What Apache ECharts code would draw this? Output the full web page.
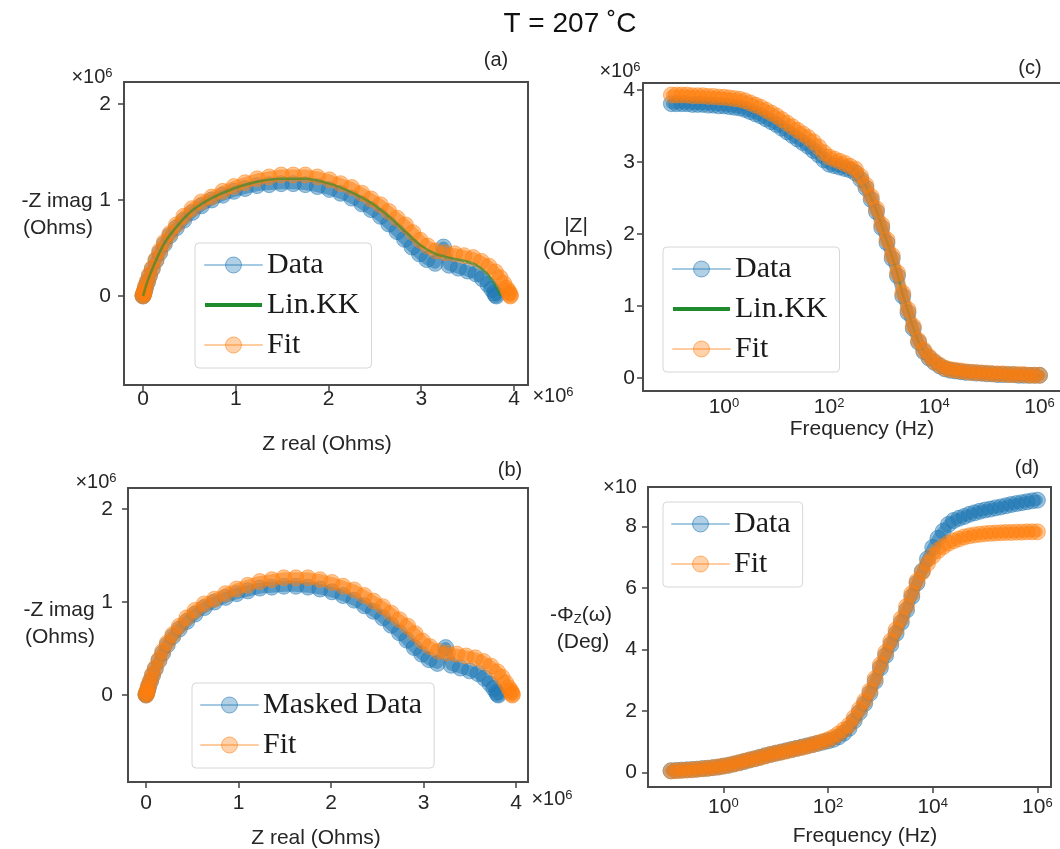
<!DOCTYPE html>
<html><head><meta charset="utf-8">
<script src="https://cdn.jsdelivr.net/npm/echarts@6/dist/echarts.min.js"></script>
<style>html,body{margin:0;padding:0;background:#fff}#chart{width:1060px;height:849px}</style>
</head><body><div id="chart"></div>
<script>
// ---------- DATA ----------
// Frequency exponents (log10 Hz)
const freqExp = [-1.0,-0.9,-0.8,-0.7,-0.6,-0.5,-0.4,-0.3,-0.2,-0.1,
  0.0,0.1,0.2,0.3,0.4,0.5,0.6,0.7,0.8,0.9,
  1.0,1.1,1.2,1.3,1.4,1.5,1.6,1.7,1.8,1.9,
  2.0,2.1,2.2,2.3,2.4,2.5,2.6,2.7,2.8,2.9,
  3.0,3.1,3.2,3.3,3.4,3.5,3.6,3.7,3.8,3.9,
  4.0,4.1,4.2,4.3,4.4,4.5,4.6,4.7,4.8,4.9,
  5.0,5.1,5.2,5.3,5.4,5.5,5.6,5.7,5.8,5.9,
  6.0];
// |Z| (x1e6 Ohms)
const zModData = [3.81,3.81,3.81,3.81,3.80,3.80,3.80,3.79,3.79,3.78,
  3.78,3.77,3.76,3.75,3.73,3.70,3.67,3.64,3.60,3.56,
  3.52,3.47,3.42,3.37,3.32,3.27,3.22,3.16,3.10,3.03,
  2.97,2.95,2.93,2.91,2.89,2.85,2.76,2.64,2.48,2.31,
  2.09,1.88,1.66,1.42,1.14,0.91,0.69,0.50,0.37,0.28,
  0.22,0.17,0.13,0.11,0.10,0.09,0.08,0.08,0.07,0.07,
  0.06,0.06,0.05,0.05,0.05,0.05,0.04,0.04,0.04,0.04,
  0.04];
const zModKK = [3.86,3.86,3.86,3.86,3.85,3.85,3.85,3.84,3.84,3.83,
  3.83,3.82,3.81,3.80,3.78,3.75,3.72,3.69,3.65,3.61,
  3.57,3.52,3.47,3.42,3.37,3.32,3.27,3.21,3.15,3.08,
  3.02,2.99,2.97,2.94,2.91,2.87,2.78,2.66,2.50,2.33,
  2.11,1.90,1.68,1.44,1.16,0.93,0.70,0.51,0.38,0.29,
  0.22,0.17,0.13,0.11,0.10,0.09,0.08,0.08,0.07,0.07,
  0.06,0.06,0.05,0.05,0.05,0.05,0.04,0.04,0.04,0.04,
  0.04];
const zModFit = [3.93,3.93,3.93,3.93,3.92,3.92,3.92,3.91,3.91,3.90,
  3.90,3.89,3.88,3.87,3.85,3.82,3.79,3.76,3.72,3.68,
  3.64,3.59,3.54,3.49,3.44,3.39,3.34,3.28,3.21,3.13,
  3.07,3.04,3.01,2.98,2.94,2.90,2.80,2.68,2.52,2.35,
  2.13,1.92,1.70,1.46,1.18,0.95,0.72,0.52,0.39,0.30,
  0.23,0.18,0.14,0.12,0.11,0.10,0.09,0.08,0.08,0.07,
  0.07,0.06,0.06,0.06,0.05,0.05,0.05,0.05,0.04,0.04,
  0.04];
// -Phase (x10 deg)
const phaseData = [0.05,0.06,0.07,0.08,0.09,0.10,0.12,0.13,0.15,0.17,
  0.20,0.23,0.27,0.31,0.35,0.40,0.44,0.49,0.54,0.58,
  0.62,0.66,0.70,0.74,0.78,0.82,0.86,0.90,0.94,0.98,
  1.02,1.07,1.15,1.27,1.43,1.68,1.95,2.24,2.57,2.96,
  3.40,3.80,4.16,4.52,4.88,5.28,5.72,6.16,6.55,6.95,
  7.32,7.62,7.85,8.07,8.20,8.27,8.33,8.40,8.45,8.50,
  8.54,8.57,8.61,8.64,8.68,8.72,8.75,8.78,8.81,8.84,
  8.86];
const phaseFit = [0.04,0.05,0.06,0.07,0.08,0.10,0.11,0.13,0.15,0.17,
  0.20,0.23,0.27,0.31,0.36,0.40,0.44,0.48,0.53,0.58,
  0.62,0.65,0.69,0.73,0.77,0.81,0.85,0.90,0.95,1.00,
  1.06,1.14,1.25,1.38,1.53,1.78,2.05,2.32,2.65,3.05,
  3.50,3.90,4.27,4.64,5.00,5.40,5.82,6.22,6.52,6.80,
  7.04,7.22,7.35,7.46,7.54,7.60,7.66,7.70,7.73,7.75,
  7.77,7.78,7.79,7.80,7.81,7.81,7.82,7.82,7.83,7.83,
  7.83];
// Nyquist (x1e6 Ohms)
const nyqDataRe = [0.00,0.00,0.01,0.02,0.03,0.05,0.07,0.10,0.14,0.18,
  0.23,0.29,0.36,0.44,0.53,0.63,0.74,0.86,0.98,1.10,
  1.23,1.36,1.49,1.62,1.75,1.88,2.01,2.13,2.25,2.36,
  2.46,2.56,2.65,2.74,2.82,2.90,2.98,3.06,3.15,3.24,
  3.30,3.40,3.50,3.59,3.66,3.72,3.76,3.79,3.80,3.81];
const nyqDataIm = [0.00,0.01,0.03,0.06,0.10,0.15,0.21,0.28,0.37,0.45,
  0.54,0.63,0.71,0.79,0.87,0.94,1.00,1.05,1.09,1.12,
  1.15,1.16,1.17,1.17,1.16,1.14,1.11,1.07,1.02,0.96,
  0.90,0.83,0.75,0.67,0.59,0.51,0.44,0.38,0.34,0.51,
  0.32,0.29,0.26,0.23,0.18,0.12,0.07,0.03,0.01,0.00];
const nyqKKRe = [0.00,0.01,0.03,0.07,0.14,0.23,0.36,0.53,0.74,0.98,1.23,1.49,1.75,2.01,
  2.25,2.46,2.65,2.83,2.99,3.15,3.30,3.45,3.58,3.68,3.76,3.81,3.84,3.85];
const nyqKKIm = [0.00,0.03,0.10,0.21,0.37,0.55,0.72,0.89,1.02,1.12,1.19,1.22,1.22,1.17,
  1.08,0.97,0.83,0.67,0.53,0.44,0.40,0.37,0.33,0.26,0.17,0.09,0.03,0.00];
const nyqFitRe = [0.00,0.00,0.01,0.01,0.02,0.03,0.05,0.07,0.10,0.14,
  0.18,0.23,0.29,0.36,0.44,0.53,0.63,0.74,0.86,0.98,
  1.10,1.23,1.36,1.49,1.62,1.75,1.88,2.01,2.13,2.25,
  2.36,2.46,2.56,2.65,2.74,2.83,2.91,2.99,3.07,3.16,
  3.26,3.36,3.46,3.56,3.65,3.73,3.80,3.85,3.89,3.92,
  3.94,3.95,3.96,3.96];
const nyqFitIm = [0.00,0.01,0.02,0.04,0.07,0.11,0.16,0.22,0.29,0.38,
  0.47,0.56,0.65,0.74,0.83,0.91,0.98,1.03,1.09,1.14,
  1.18,1.22,1.24,1.26,1.26,1.26,1.24,1.21,1.17,1.13,
  1.07,1.01,0.95,0.88,0.81,0.74,0.66,0.58,0.52,0.47,
  0.45,0.44,0.42,0.40,0.36,0.31,0.25,0.19,0.13,0.08,
  0.05,0.03,0.01,0.00];
// Tick values
const nyqXTicks = [0,1,2,3,4];
const nyqYTicks = [0,1,2];
const zModTicks = [0,1,2,3,4];
const phaseTicks = [0,2,4,6,8];
const freqTicks = [0,2,4,6];

// ---------- CHART ----------
const chart = echarts.init(document.getElementById('chart'), null, {renderer:'canvas'});
const SANS = 'Liberation Sans, Arial, sans-serif';
const SERIF = 'Liberation Serif, Times New Roman, serif';
const TXT = '#262626';
const FRAME = '#4a4a4a';
const BLUE = '31,119,180', ORANGE = '255,127,14', GREEN = '#1f8b2c';
const zip = (a, b) => a.map((v, i) => [v, b[i]]);

function markerSeries(name, rgb, data, idx, z) {
  return {name, type:'line', xAxisIndex:idx, yAxisIndex:idx, data, z: z || 2,
    symbol:'circle', symbolSize:16, showAllSymbol:true, silent:true,
    lineStyle:{color:`rgba(${rgb},0.55)`, width:11, cap:'round', join:'round'},
    itemStyle:{color:`rgba(${rgb},0.45)`, borderColor:`rgba(${rgb},0.5)`, borderWidth:1},
    emphasis:{disabled:true}};
}
function kkSeries(data, idx, z, opacity) {
  return {name:'Lin.KK', type:'line', xAxisIndex:idx, yAxisIndex:idx, data, symbol:'none', z,
    smooth:0.3, silent:true, lineStyle:{color:GREEN, width:2.5, opacity}, itemStyle:{color:GREEN}, emphasis:{disabled:true}};
}
function valAxis(gridIndex, min, max, ticks, margin, showTick, fmt, showLine) {
  const ax = {type:'value', gridIndex, min, max,
    axisLine:{show:!!showLine, onZero:false, lineStyle:{color:FRAME, width:2}},
    splitLine:{show:false},
    axisTick:{show:showTick, inside:false, length:6, lineStyle:{color:'#444', width:1.5}, customValues:ticks},
    axisLabel:{customValues:ticks, color:TXT, fontFamily:SANS, fontSize:21, margin}};
  if (fmt) {
    ax.axisLabel.formatter = fmt;
    ax.axisLabel.rich = {b:{fontSize:21, fontFamily:SANS, color:TXT}, s:{fontSize:13, fontFamily:SANS, color:TXT, verticalAlign:'top'}};
  }
  return ax;
}
const powFmt = v => '{b|10}{s|' + Math.round(v) + '}';

function legendItem(name, rgb) {
  return {name, lineStyle:{width:2, color:`rgba(${rgb},0.4)`, opacity:1}, itemStyle:{color:`rgba(${rgb},0.35)`, borderColor:`rgba(${rgb},0.55)`, borderWidth:1}};
}
const kkLegend = {name:'Lin.KK', itemStyle:{opacity:0}, lineStyle:{width:4, color:GREEN, opacity:1}};
function legend(items, left, top) {
  return {data:items, left, top, orient:'vertical', itemWidth:57, itemHeight:20, itemGap:10,
    padding:[7,12,8,8], backgroundColor:'rgba(255,255,255,0.85)', borderColor:'#d6d6d6', borderWidth:1, borderRadius:4,
    textStyle:{fontFamily:SERIF, fontSize:30, color:'#1a1a1a', lineHeight:30}, selectedMode:false, z:10};
}

function txt(text, x, y, size, fill) {
  return {type:'text', x, y, silent:true,
    style:{text, fill:fill || TXT, fontFamily:SANS, fontSize:size, align:'center', verticalAlign:'middle'}};
}
function rtxt(text, x, y, rich) {
  return {type:'text', x, y, silent:true,
    style:{text, fill:TXT, fontFamily:SANS, fontSize:20, align:'center', verticalAlign:'middle', rich}};
}
const supRich = {a:{fontSize:20, fontFamily:SANS, fill:TXT}, s:{fontSize:13, fontFamily:SANS, fill:TXT, verticalAlign:'top'}};
const subRich = {a:{fontSize:21, fontFamily:SANS, fill:TXT}, z:{fontSize:13, fontFamily:SANS, fill:TXT, verticalAlign:'bottom'}};

const frameGrid = (left, top, width, height, show) =>
  ({left, top, width, height, show, borderColor:FRAME, borderWidth:2, backgroundColor:'transparent'});

const option = {
  animation:false,
  backgroundColor:'#fff',
  grid:[
    frameGrid(124, 82, 404, 303, true),
    frameGrid(128, 488, 400, 294, true),
    frameGrid(643, 83, 417, 308, false),
    frameGrid(648, 487, 403, 300, true)
  ],
  xAxis:[
    valAxis(0, -0.205, 4.151, nyqXTicks, 4, true),
    valAxis(1, -0.195, 4.13, nyqXTicks, 11, true),
    valAxis(2, -1.54, 6.39, freqTicks, 6, false, powFmt, true),
    valAxis(3, -1.44, 6.26, freqTicks, 10, true, powFmt),
    {type:'value', gridIndex:2, position:'top', min:0, max:1,
      axisLine:{show:true, onZero:false, lineStyle:{color:FRAME, width:2}},
      axisTick:{show:false}, axisLabel:{show:false}, splitLine:{show:false}}
  ],
  yAxis:[
    valAxis(0, -0.927, 2.229, nyqYTicks, 13, true),
    valAxis(1, -0.935, 2.226, nyqYTicks, 15, true),
    valAxis(2, -0.178, 4.097, zModTicks, 8, true, null, true),
    valAxis(3, -0.48, 9.29, phaseTicks, 11, true)
  ],
  legend:[
    legend([legendItem('Data', BLUE), kkLegend, legendItem('Fit', ORANGE)], 195, 243),
    legend([legendItem('Masked Data', BLUE), legendItem('Fit', ORANGE)], 192, 683),
    legend([legendItem('Data', BLUE), kkLegend, legendItem('Fit', ORANGE)], 663, 247),
    legend([legendItem('Data', BLUE), legendItem('Fit', ORANGE)], 663, 502)
  ],
  series:[
    markerSeries('Data', BLUE, zip(nyqDataRe, nyqDataIm), 0),
    kkSeries(zip(nyqKKRe, nyqKKIm), 0, 4, 0.6),
    markerSeries('Fit', ORANGE, zip(nyqFitRe, nyqFitIm), 0, 3),
    markerSeries('Masked Data', BLUE, zip(nyqDataRe, nyqDataIm), 1),
    markerSeries('Fit', ORANGE, zip(nyqFitRe, nyqFitIm), 1, 3),
    markerSeries('Data', BLUE, zip(freqExp, zModData), 2),
    kkSeries(zip(freqExp, zModKK), 2, 2, 1),
    markerSeries('Fit', ORANGE, zip(freqExp, zModFit), 2, 3),
    markerSeries('Data', BLUE, zip(freqExp, phaseData), 3),
    markerSeries('Fit', ORANGE, zip(freqExp, phaseFit), 3, 3)
  ],
  graphic:[
    txt('T = 207 \u02DAC', 570, 24, 28, '#111'),
    txt('(a)', 496, 60, 20), txt('(b)', 510, 470, 20), txt('(c)', 1030, 68, 20), txt('(d)', 1027, 468, 20),
    rtxt('{a|\u00D710}{s|6}', 92, 77, supRich),
    rtxt('{a|\u00D710}{s|6}', 553, 396, supRich),
    rtxt('{a|\u00D710}{s|6}', 96, 482, supRich),
    rtxt('{a|\u00D710}{s|6}', 552, 799, supRich),
    rtxt('{a|\u00D710}{s|6}', 620, 71, supRich),
    rtxt('{a|\u00D710}', 620, 487, supRich),
    txt('-Z imag', 57, 201, 21), txt('(Ohms)', 58, 228, 21),
    txt('-Z imag', 59, 610, 21), txt('(Ohms)', 60, 637, 21),
    txt('|Z|', 576, 226, 21), txt('(Ohms)', 578, 249, 21),
    rtxt('{a|-\u03A6}{z|Z}{a|(\u03C9)}', 581, 615, subRich),
    txt('(Deg)', 583, 642, 21),
    txt('Z real (Ohms)', 327, 444, 21),
    txt('Z real (Ohms)', 316, 838, 21),
    txt('Frequency (Hz)', 862, 429, 21),
    txt('Frequency (Hz)', 865, 836, 21)
  ]
};
chart.setOption(option);
</script></body></html>
